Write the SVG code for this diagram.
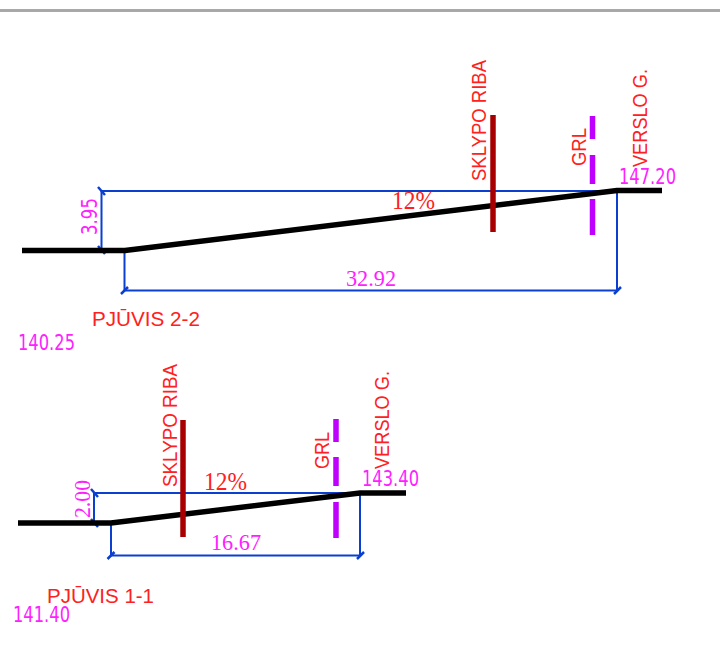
<svg xmlns="http://www.w3.org/2000/svg" width="720" height="662" viewBox="0 0 720 662">
<style>
.g{fill:none;stroke:#000;stroke-width:5.500}
.d{fill:none;stroke:#0a3fd0;stroke-width:2}
.t{fill:none;stroke:#0a3fd0;stroke-width:2.500}
.b{stroke:#a80000;stroke-width:5.500;fill:none}
.p{stroke:#c000ff;stroke-width:5.500;fill:none}
.r{fill:#ff2020;font-family:"Liberation Sans",Arial,sans-serif;font-size:20.500px}
.s{fill:#ff2020;font-family:"Liberation Serif",serif;font-size:25px}
.m{fill:#ff20ff;font-family:"DejaVu Sans",sans-serif;font-size:21px}
.n{fill:#ff20ff;font-family:"Liberation Serif",serif;font-size:23px}
</style>
<rect width="720" height="662" fill="#fff"/>
<rect x="0" y="9" width="720" height="3" fill="#a8a8a8"/>
<g id="connectors">
<path class="d" d="M101.500 191H617V290.500H124.500V250M101.500 191V250H125"/>
<path class="d" d="M94 493H360V555.500H111V523M94 493V523H111"/>
<path class="t" d="M98 187L105 195M98 246L105 254M121 294L128 287M614 294L621 287M91 489L98 497M91 519L98 527M107.500 559L114.500 552M357 559L364 552"/>
</g>
<g id="section-2-2">
<path class="g" d="M22 250.500H125L617 190.500H662"/>
<path class="b" d="M493 115V232"/>
<path class="p" d="M592.500 116V139M592.500 155V184M592.500 199V235"/>
<text class="r" transform="translate(486 181) rotate(-90)" textLength="121" lengthAdjust="spacingAndGlyphs">SKLYPO RIBA</text>
<text class="r" transform="translate(586 166) rotate(-90)" textLength="38" lengthAdjust="spacingAndGlyphs">GRL</text>
<text class="r" transform="translate(647 167) rotate(-90)" textLength="98" lengthAdjust="spacingAndGlyphs">VERSLO G.</text>
<text class="s" x="392" y="209" textLength="43" lengthAdjust="spacingAndGlyphs">12%</text>
<text class="m" x="619" y="184" textLength="57" lengthAdjust="spacingAndGlyphs">147.20</text>
<text class="m" transform="translate(97 235) rotate(-90)" textLength="37" lengthAdjust="spacingAndGlyphs">3.95</text>
<text class="n" x="346" y="286" textLength="50" lengthAdjust="spacingAndGlyphs">32.92</text>
<text class="r" x="92" y="326" textLength="108" lengthAdjust="spacingAndGlyphs">PJŪVIS 2-2</text>
<text class="m" x="18" y="350" textLength="57" lengthAdjust="spacingAndGlyphs">140.25</text>
</g>
<g id="section-1-1">
<path class="g" d="M18 523H111L360 493H406"/>
<path class="b" d="M183 420V537"/>
<path class="p" d="M336 419V442M336 457V486M336 502V538"/>
<text class="r" transform="translate(177 487) rotate(-90)" textLength="123" lengthAdjust="spacingAndGlyphs">SKLYPO RIBA</text>
<text class="r" transform="translate(329 469) rotate(-90)" textLength="37" lengthAdjust="spacingAndGlyphs">GRL</text>
<text class="r" transform="translate(389 469) rotate(-90)" textLength="98" lengthAdjust="spacingAndGlyphs">VERSLO G.</text>
<text class="s" x="204" y="490" textLength="43" lengthAdjust="spacingAndGlyphs">12%</text>
<text class="m" x="362" y="486" textLength="57" lengthAdjust="spacingAndGlyphs">143.40</text>
<text class="n" transform="translate(90 518) rotate(-90)" textLength="38" lengthAdjust="spacingAndGlyphs">2.00</text>
<text class="n" x="211" y="550" textLength="50" lengthAdjust="spacingAndGlyphs">16.67</text>
<text class="r" x="47" y="603" textLength="107" lengthAdjust="spacingAndGlyphs">PJŪVIS 1-1</text>
<text class="m" x="13" y="622" textLength="57" lengthAdjust="spacingAndGlyphs">141.40</text>
</g>
</svg>
